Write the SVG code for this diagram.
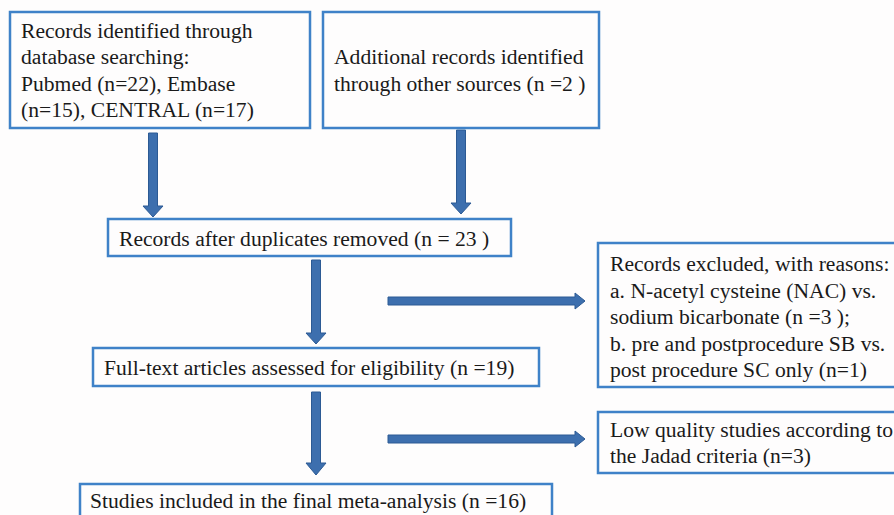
<svg xmlns="http://www.w3.org/2000/svg" width="894" height="515" viewBox="0 0 894 515">
<style>
.box{fill:#fefdfd;stroke:#3f82c8;stroke-width:2.5}
.t{font-family:"Liberation Serif","Times New Roman",serif;font-size:21.6px;fill:#1a1a1a}
.arr{fill:#3d6fae;stroke:#2c5a94;stroke-width:1}
</style>
<rect width="894" height="515" fill="#fefdfd"/>
<g id="connectors">
<polygon class="arr" points="148.5,133 157.5,133 157.5,206 163,206 153,217 143,206 148.5,206"/>
<polygon class="arr" points="456.5,130 465.5,130 465.5,203 471,203 461,214 451,203 456.5,203"/>
<polygon class="arr" points="311.5,260 320.5,260 320.5,333 326,333 316,344 306,333 311.5,333"/>
<polygon class="arr" points="311.5,392 320.5,392 320.5,463 326,463 316,475 306,463 311.5,463"/>
<polygon class="arr" points="388,297 575,297 575,293 585,301 575,309 575,305 388,305"/>
<polygon class="arr" points="388,435 575,435 575,431 585,439 575,447 575,443 388,443"/>
</g>
<g id="n1">
<rect class="box" x="10" y="12" width="300" height="116"/>
<text class="t" x="21" y="37.5">Records identified through</text>
<text class="t" x="21" y="64">database searching:</text>
<text class="t" x="21" y="90.5">Pubmed (n=22), Embase</text>
<text class="t" x="21" y="117">(n=15), CENTRAL (n=17)</text>
</g>
<g id="n2">
<rect class="box" x="323" y="12" width="276" height="116"/>
<text class="t" x="334" y="64">Additional records identified</text>
<text class="t" x="334" y="90.5">through other sources (n =2 )</text>
</g>
<g id="n3">
<rect class="box" x="108" y="219" width="403" height="37"/>
<text class="t" x="119" y="245.5">Records after duplicates removed (n = 23 )</text>
</g>
<g id="n4">
<rect class="box" x="93" y="348" width="446" height="38"/>
<text class="t" x="104" y="375">Full-text articles assessed for eligibility (n =19)</text>
</g>
<g id="n5">
<rect class="box" x="80" y="484" width="472" height="40"/>
<text class="t" x="90" y="508">Studies included in the final meta-analysis (n =16)</text>
</g>
<g id="n6">
<rect class="box" x="598" y="243" width="310" height="144"/>
<text class="t" x="610" y="271">Records excluded, with reasons:</text>
<text class="t" x="610" y="297.5">a. N-acetyl cysteine (NAC) vs.</text>
<text class="t" x="610" y="324">sodium bicarbonate (n =3 );</text>
<text class="t" x="610" y="350.5">b. pre and postprocedure SB vs.</text>
<text class="t" x="610" y="377">post procedure SC only (n=1)</text>
</g>
<g id="n7">
<rect class="box" x="598" y="412" width="310" height="61"/>
<text class="t" x="610" y="437">Low quality studies according to</text>
<text class="t" x="610" y="463">the Jadad criteria (n=3)</text>
</g>
</svg>
